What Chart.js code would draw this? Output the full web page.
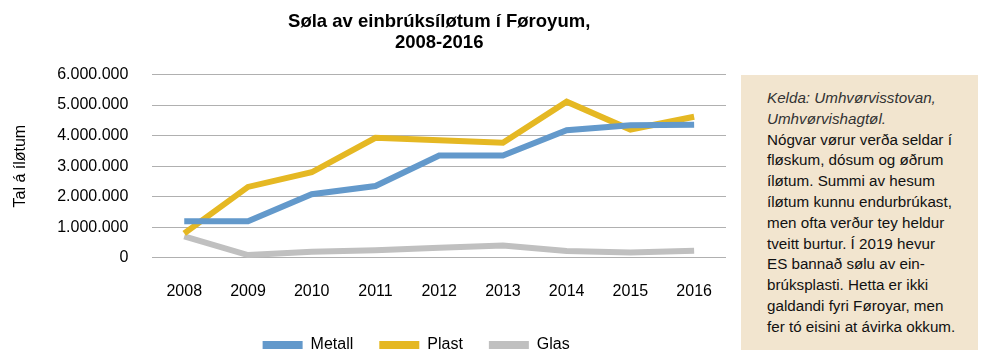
<!DOCTYPE html>
<html lang="fo">
<head>
<meta charset="UTF-8">
<script src="https://cdn.jsdelivr.net/npm/chart.js@4.4.0/dist/chart.umd.min.js"></script>
<title>Søla av einbrúksíløtum</title>
<style>
    body { margin: 0; background: #fff; font-family: "Liberation Sans", Arial, sans-serif; }
    .wrap { position: relative; width: 985px; height: 358px; }
    .chart { position: absolute; left: 0; top: 0; width: 745px; height: 358px; }
    .note {
        position: absolute; left: 741px; top: 75px; width: 237px; height: 275px;
        background: #f2e5cf; box-sizing: border-box; padding: 13px 0 0 26px;
        font-size: 15.2px; line-height: 20.8px; color: #111;
    }
    .note i { color: #333; }
</style>
</head>
<body>
<div class="wrap">
    <div class="chart"><canvas id="chart1"></canvas></div>
    <div class="note">
        <i>Kelda: Umhvørvisstovan,<br>Umhvørvishagtøl.</i><br>
        Nógvar vørur verða seldar í<br>fløskum, dósum og øðrum<br>íløtum. Summi av hesum<br>
        íløtum kunnu endurbrúkast,<br>men ofta verður tey heldur<br>tveitt burtur. Í 2019 hevur<br>
        ES bannað sølu av ein-<br>brúksplasti. Hetta er ikki<br>galdandi fyri Føroyar, men<br>fer tó eisini at ávirka okkum.
    </div>
</div>

<script>
    var years = ['2008', '2009', '2010', '2011', '2012', '2013', '2014', '2015', '2016'];
    var metall = [1200000, 1200000, 2080000, 2350000, 3350000, 3350000, 4180000, 4340000, 4360000];
    var plast = [800000, 2320000, 2800000, 3930000, 3850000, 3770000, 5110000, 4200000, 4620000];
    var glas = [700000, 90000, 200000, 250000, 330000, 400000, 220000, 170000, 230000];
    var yTicks = [0, 1000000, 2000000, 3000000, 4000000, 5000000, 6000000];

    function dots(v) {
        return String(v).replace(/\B(?=(\d{3})+(?!\d))/g, '.');
    }

    function line(label, values, color) {
        return {
            label: label,
            data: values,
            borderColor: color,
            backgroundColor: color,
            borderWidth: 6,
            pointRadius: 0,
            tension: 0,
            borderCapStyle: 'butt'
        };
    }

    // legend sits a bit left of the plot centre in the original
    var legendShift = {
        id: 'legendShift',
        afterLayout: function (chart) {
            chart.legend.left -= 23;
            chart.legend.right -= 23;
        }
    };

    var ctx = document.getElementById('chart1').getContext('2d');
    var myChart = new Chart(ctx, {
        type: 'line',
        data: {
            labels: years,
            datasets: [
                line('Metall', metall, '#6399cb'),
                line('Plast', plast, '#e5b823'),
                line('Glas', glas, '#c0c0c0')
            ]
        },
        plugins: [legendShift],
        options: {
            responsive: true,
            maintainAspectRatio: false,
            animation: false,
            layout: { padding: { left: 11, right: 19, top: 0, bottom: -5 } },
            plugins: {
                title: {
                    display: true,
                    fullSize: false,
                    text: ['Søla av einbrúksíløtum í Føroyum,', '2008-2016'],
                    color: '#000',
                    font: { family: 'Liberation Sans', size: 18.5, weight: 'bold', lineHeight: 1.15 },
                    padding: { top: 11, bottom: 21 }
                },
                legend: {
                    position: 'bottom',
                    fullSize: false,
                    labels: {
                        color: '#000',
                        font: { family: 'Liberation Sans', size: 16 },
                        boxWidth: 40,
                        boxHeight: 8,
                        padding: 26,
                        generateLabels: function (chart) {
                            var items = Chart.defaults.plugins.legend.labels.generateLabels(chart);
                            items.forEach(function (it) { it.lineWidth = 0; });
                            return items;
                        }
                    }
                },
                tooltip: { enabled: false }
            },
            scales: {
                x: {
                    offset: true,
                    grid: { display: false, drawTicks: false },
                    border: { display: false },
                    ticks: {
                        color: '#000',
                        font: { family: 'Liberation Sans', size: 16 },
                        padding: 24
                    },
                    afterFit: function (axis) { axis.height -= 14; }
                },
                y: {
                    min: 0,
                    max: 6000000,
                    afterBuildTicks: function (axis) {
                        axis.ticks = yTicks.map(function (v) { return { value: v }; });
                    },
                    grid: { color: '#b0b0b0', lineWidth: 1, drawTicks: false },
                    border: { display: false },
                    ticks: {
                        color: '#000',
                        font: { family: 'Liberation Sans', size: 16 },
                        padding: 24,
                        callback: function (v) { return dots(v); }
                    },
                    title: {
                        display: true,
                        text: 'Tal á íløtum',
                        color: '#000',
                        font: { family: 'Liberation Sans', size: 16 },
                        padding: { top: 0, bottom: 3 }
                    }
                }
            }
        }
    });
</script>
</body>
</html>
